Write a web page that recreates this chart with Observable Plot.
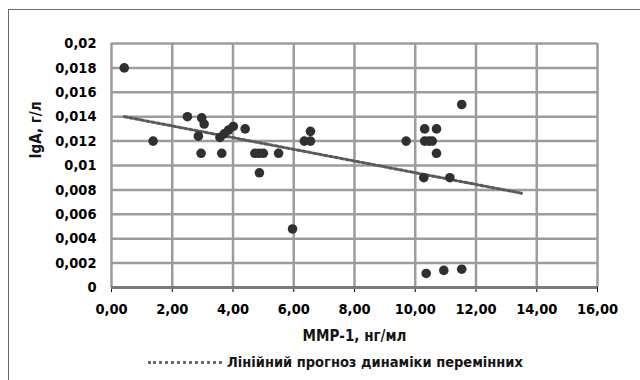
<!DOCTYPE html>
<html>
<head>
<meta charset="utf-8">
<script src="https://cdn.jsdelivr.net/npm/d3@7"></script>
<script src="https://cdn.jsdelivr.net/npm/@observablehq/plot@0.6"></script>
<style>
  html, body { margin: 0; padding: 0; background: #fff; }
  #wrap { position: relative; width: 640px; height: 380px; overflow: hidden; font-family: "DejaVu Sans Condensed", "DejaVu Sans", sans-serif; }
  #frame { position: absolute; left: 8px; top: 9px; width: 640px; height: 380px; border-top: 1.5px solid #6a6a6a; border-left: 1.5px solid #6a6a6a; pointer-events: none; }
  #legend { position: absolute; left: 148px; top: 351px; height: 22px; display: flex; align-items: center; font-weight: 700; font-size: 14.5px; color: #151515; white-space: nowrap; }
  #legend .sw { display: inline-block; width: 74px; height: 0; border-top: 3px dotted #6a6a6a; margin-right: 5px; }
</style>
</head>
<body>
<div id="wrap">
  <div id="chart"></div>
  <div id="legend"><span class="sw"></span><span id="legtext"></span></div>
  <div id="frame"></div>
</div>
<script>
// Data
const mmp = [0.42, 1.37, 2.50, 2.86, 2.95, 2.97, 3.05, 3.57, 3.63, 3.71, 3.85, 4.01, 4.40, 4.72, 4.86, 5.00, 4.87, 5.50, 5.96, 6.35, 6.55, 6.55, 9.70, 10.28, 10.31, 10.31, 10.45, 10.56, 10.70, 10.70, 11.14, 11.53, 10.36, 10.94, 11.53];
const iga = [0.0180, 0.0120, 0.0140, 0.0124, 0.0110, 0.0139, 0.0134, 0.0123, 0.0110, 0.0126, 0.0129, 0.0132, 0.0130, 0.0110, 0.0110, 0.0110, 0.0094, 0.0110, 0.0048, 0.0120, 0.0120, 0.0128, 0.0120, 0.0090, 0.0130, 0.0120, 0.0120, 0.0120, 0.0130, 0.0110, 0.0090, 0.0150, 0.00115, 0.0014, 0.0015];
const trendX = [0.42, 13.56];
const trendY = [0.0140, 0.0077];
const xTicks = [0, 2, 4, 6, 8, 10, 12, 14, 16];
const yTicks = [0, 0.002, 0.004, 0.006, 0.008, 0.01, 0.012, 0.014, 0.016, 0.018, 0.02];
const xTitle = "ММР-1, нг/мл";
const yTitle = "IgA, г/л";
const legendLabel = "Лінійний прогноз динаміки перемінних";

const points = mmp.map((x, i) => ({x, y: iga[i]}));
const trend = trendX.map((x, i) => ({x, y: trendY[i]}));

const fmtX = d => d.toFixed(2).replace(".", ",");
const fmtY = d => String(+d.toFixed(3)).replace(".", ",");
const font = "'DejaVu Sans Condensed', 'DejaVu Sans', sans-serif";

const chart = Plot.plot({
  width: 640,
  height: 350,
  marginLeft: 111,
  marginRight: 43,
  marginTop: 43,
  marginBottom: 63,
  style: { fontFamily: font, fontSize: "14.5px", fontWeight: 700 },
  x: { domain: [0, 16], ticks: xTicks, tickFormat: fmtX, tickSize: 5, tickPadding: 11, label: null },
  y: { domain: [0, 0.02], ticks: yTicks, tickFormat: fmtY, tickSize: 0, tickPadding: 15, label: null },
  marks: [
    Plot.ruleX(xTicks, { stroke: "#9c9c9c", strokeWidth: 2.5 }),
    Plot.ruleY(yTicks, { stroke: "#9c9c9c", strokeWidth: 2.5 }),
    Plot.ruleY([0], { stroke: "#7a7a7a", strokeWidth: 3 }),
    Plot.line(trend, { x: "x", y: "y", stroke: "#5a5a5a", strokeWidth: 3, strokeDasharray: "3,2.5" }),
    Plot.dot(points, { x: "x", y: "y", r: 4.8, fill: "#303030", stroke: "none" }),
    Plot.text([xTitle], { frameAnchor: "bottom", dy: 53, text: d => d, fontSize: 15, fontWeight: 700, fill: "#151515" }),
    Plot.text([yTitle], { frameAnchor: "left", dx: -75, dy: -7, rotate: -90, text: d => d, fontSize: 15, fontWeight: 700, fill: "#151515" })
  ]
});
document.getElementById("chart").appendChild(chart);
document.getElementById("legtext").textContent = legendLabel;
</script>
</body>
</html>
